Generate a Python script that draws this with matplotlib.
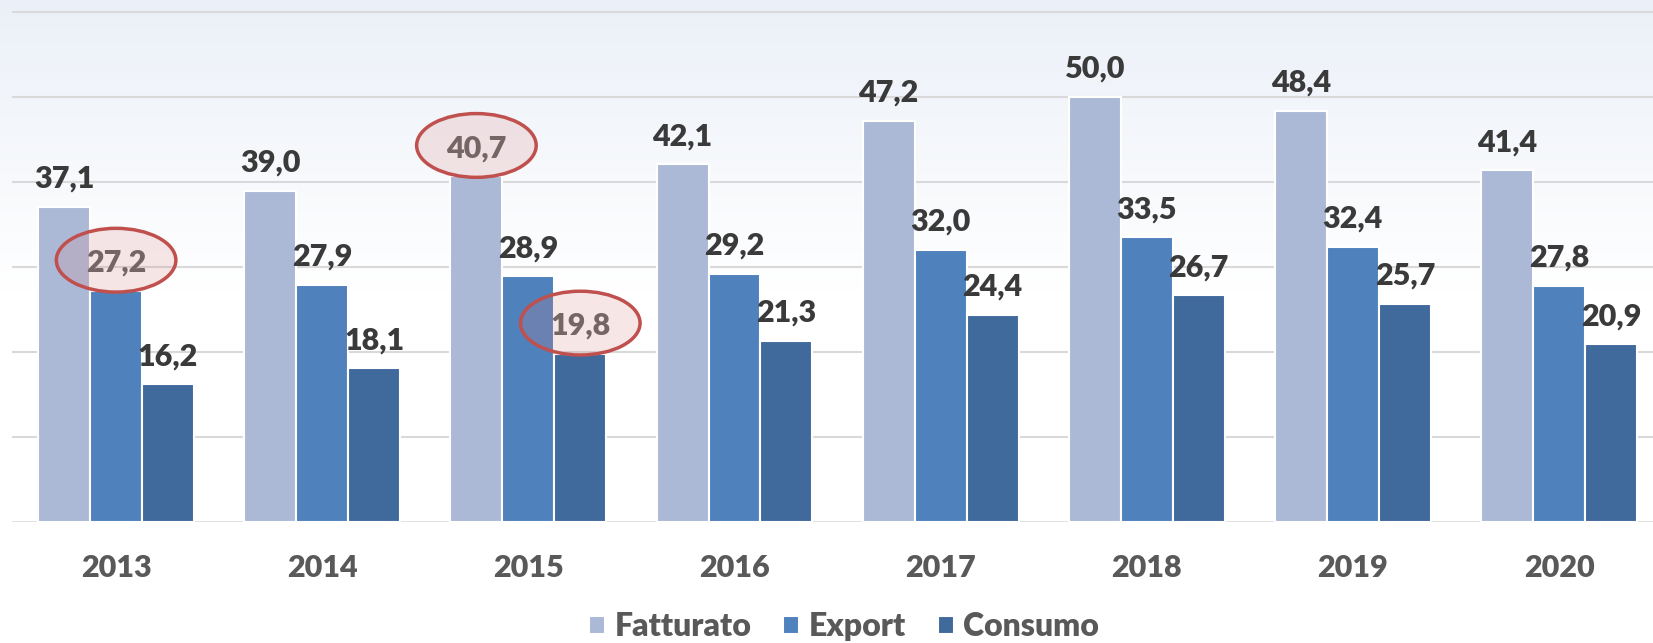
import numpy as np
import matplotlib.pyplot as plt
from matplotlib.patches import Ellipse

years = ['2013', '2014', '2015', '2016', '2017', '2018', '2019', '2020']
fatturato = [37.1, 39.0, 40.7, 42.1, 47.2, 50.0, 48.4, 41.4]
export = [27.2, 27.9, 28.9, 29.2, 32.0, 33.5, 32.4, 27.8]
consumo = [16.2, 18.1, 19.8, 21.3, 24.4, 26.7, 25.7, 20.9]
series_names = ['Fatturato', 'Export', 'Consumo']
colors = ['#abb9d7', '#4f81bd', '#416a9c']
# (series index, year index) of the circled labels
highlights = [(1, 0), (0, 2), (2, 2)]

plt.rcParams['font.family'] = ['Lato', 'DejaVu Sans']

W, H = 1653, 643
fig = plt.figure(figsize=(W / 100, H / 100), dpi=100)

# soft gradient in the top part of the background
bg = fig.add_axes([0, 0, 1, 1], zorder=-10)
top = np.array([235, 240, 248]) / 255
grad_h = 290
rows = np.ones((H, 3))
for i in range(grad_h):
    t = i / grad_h
    rows[i] = top * (1 - t) + np.ones(3) * t
bg.imshow(rows[:, None, :], aspect='auto', extent=[0, 1, 0, 1])
bg.axis('off')

base_px = 522
ax = fig.add_axes([12 / W, (H - base_px) / H, 1 - 12 / W, base_px / H])
ax.patch.set_alpha(0)

data = [fatturato, export, consumo]
x = np.arange(len(years))
bw = 0.252
for k, vals in enumerate(data):
    ax.bar(x + (k - 1) * bw, vals, bw, color=colors[k], edgecolor='white',
           linewidth=1.5, label=series_names[k], zorder=3)
    for i, v in enumerate(vals):
        c = '#5e5e5e' if (k, i) in highlights else '#3a3a3a'
        ax.annotate(f'{v:.1f}'.replace('.', ','), (x[i] + (k - 1) * bw, v),
                    xytext=(0, 19), textcoords='offset pixels',
                    ha='center', va='baseline', fontsize=22, fontweight='heavy',
                    color=c, zorder=4)

for k, i in highlights:
    v = data[k][i]
    ax.add_patch(Ellipse((x[i] + (k - 1) * bw, v + 3.6), 0.58, 7.5,
                         facecolor=(0.85, 0.52, 0.52, 0.2), edgecolor='#c0504d',
                         linewidth=2.5, zorder=5))

ax.set_xlim(-0.505, 7.456)
ax.set_ylim(0, base_px / 8.5)
ax.set_yticks([10, 20, 30, 40, 50, 60])
ax.yaxis.grid(True, color='#d9d9d9', linewidth=1.5, zorder=0)
ax.axhline(0, color='#d9d9d9', linewidth=1.8, zorder=2)
ax.tick_params(axis='y', left=False, labelleft=False)
ax.tick_params(axis='x', length=0, pad=23)
ax.set_xticks(x)
ax.set_xticklabels(years, fontsize=22, fontweight='heavy', color='#595959')
for s in ax.spines.values():
    s.set_visible(False)

leg = fig.legend(loc='center', bbox_to_anchor=(0.5106, 0.025), ncol=3,
                 frameon=False, handlelength=0.5, handleheight=0.5,
                 handletextpad=0.3, columnspacing=1.0,
                 prop={'size': 23, 'weight': 'heavy'})
for t in leg.get_texts():
    t.set_color('#595959')

fig.savefig('out.png', dpi=100)
